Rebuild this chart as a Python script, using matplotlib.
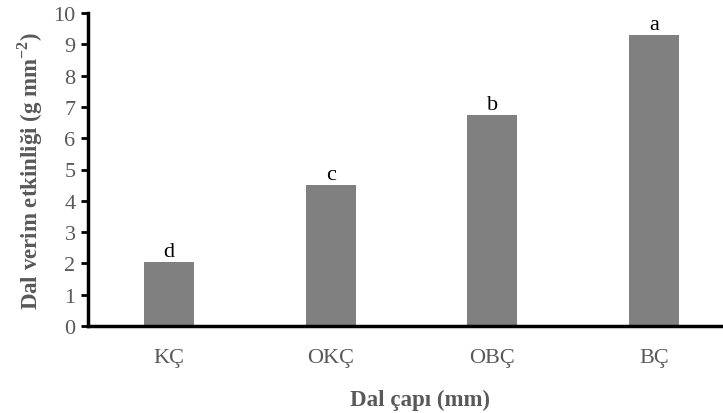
import matplotlib
matplotlib.use("Agg")
import matplotlib.pyplot as plt

categories = ["KÇ", "OKÇ", "OBÇ", "BÇ"]
values = [2.05, 4.52, 6.75, 9.3]
letters = ["d", "c", "b", "a"]
yticks = list(range(0, 11))

plt.rcParams['font.family'] = ['Liberation Serif', 'DejaVu Serif']
plt.rcParams['mathtext.fontset'] = 'custom'
plt.rcParams['mathtext.rm'] = 'Liberation Serif'
plt.rcParams['mathtext.bf'] = 'Liberation Serif:bold'

fig = plt.figure(figsize=(7.23, 4.14), dpi=100)
ax = fig.add_axes([88/723, 1-327/414, (735-88)/723, (327-14)/414])

x = list(range(len(categories)))
bars = ax.bar(x, values, width=0.31, color="#808080", zorder=2)
for xi, v, l in zip(x, values, letters):
    ax.text(xi, v + 0.03, l, ha="center", va="bottom", fontsize=16, color="black")

ax.set_xlim(-0.5, 3.5)
ax.set_ylim(0, 10)
ax.set_yticks(yticks)
ax.set_xticks(x)
ax.set_xticklabels(categories)
ax.tick_params(axis="y", direction="out", length=5, width=2, colors="black", labelcolor="#595959", labelsize=16, pad=4)
ax.tick_params(axis="x", length=0, labelcolor="#595959", labelsize=16, pad=16)
for s in ["top", "right"]:
    ax.spines[s].set_visible(False)
for s in ["left", "bottom"]:
    ax.spines[s].set_linewidth(2.5)
    ax.spines[s].set_color("black")

ax.set_ylabel("Dal verim etkinliği (g mm$^{\\mathbf{-2}}$)", fontsize=16.5, fontweight="bold", color="#595959", labelpad=6)
ax.yaxis.set_label_coords(-(88-30)/647, 0.5)
ax.set_xlabel("Dal çapı (mm)", fontsize=16.5, fontweight="bold", color="#595959")
ax.xaxis.set_label_coords((420-88)/(735-88), -(400-327)/313)
ax.xaxis.label.set_va("center")
ax.yaxis.label.set_va("center")

fig.savefig("out.png", dpi=100)
